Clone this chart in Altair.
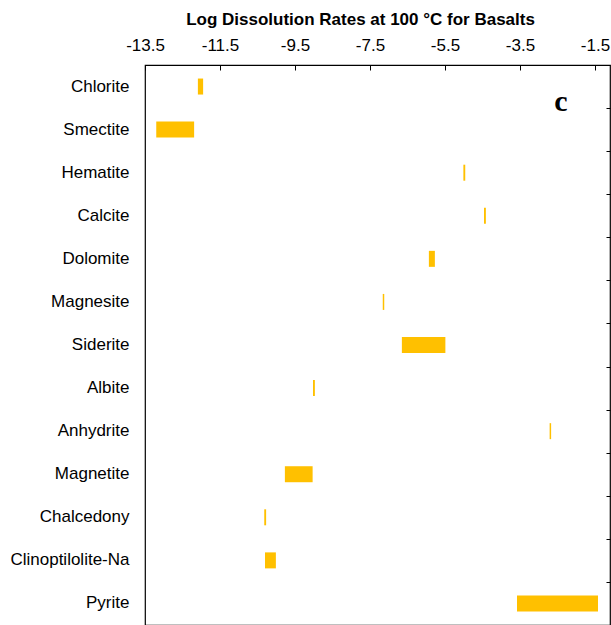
import altair as alt
import pandas as pd

# Minerals listed top to bottom
minerals = [
    "Chlorite", "Smectite", "Hematite", "Calcite", "Dolomite", "Magnesite",
    "Siderite", "Albite", "Anhydrite", "Magnetite", "Chalcedony",
    "Clinoptilolite-Na", "Pyrite",
]
# Range of log dissolution rates (low / high end) for each mineral
rate_low = [-12.09, -13.20, -5.01, -4.46, -5.93, -7.16, -6.65, -9.02, -2.71,
            -9.77, -10.32, -10.30, -3.58]
rate_high = [-11.95, -12.19, -4.96, -4.41, -5.77, -7.12, -5.49, -8.97, -2.67,
             -9.03, -10.27, -10.01, -1.42]
tick_values = [-13.5, -11.5, -9.5, -7.5, -5.5, -3.5, -1.5]

df = pd.DataFrame({"mineral": minerals, "low": rate_low, "high": rate_high})

FONT = "Liberation Sans"

x_scale = alt.Scale(domain=[-13.5, -1.1], nice=False, zero=False)
y_scale = alt.Scale(domain=minerals, paddingInner=0, paddingOuter=0)

bars = alt.Chart(df).mark_bar(color="#FFC000", size=16).encode(
    x=alt.X(
        "low:Q",
        scale=x_scale,
        axis=alt.Axis(
            orient="top", values=tick_values, format=".1f", grid=False,
            labelExpr="replace(datum.label, '\u2212', '-')",
            domain=False, tickSize=5, offset=-5, tickColor="black",
            labelFont=FONT, labelFontSize=17, labelColor="black",
            labelPadding=11, labelFlush=False,
            title="Log Dissolution Rates at 100 °C for Basalts",
            titleFont=FONT, titleFontSize=17, titleFontWeight="bold",
            titleColor="black", titlePadding=8, titleX=215,
        ),
    ),
    x2="high:Q",
    y=alt.Y(
        "mineral:N", scale=y_scale, sort=minerals,
        axis=alt.Axis(
            orient="left", title=None, ticks=False, domain=False, grid=False,
            labelFont=FONT, labelFontSize=17, labelColor="black",
            labelPadding=16,
        ),
    ),
)

# Short band-boundary ticks along the right edge
right_ticks = alt.Chart(df).mark_bar(opacity=0).encode(
    x=alt.X("low:Q", scale=x_scale, axis=None),
    x2="high:Q",
    y=alt.Y(
        "mineral:N", scale=y_scale, sort=minerals,
        axis=alt.Axis(
            orient="right", title=None, labels=False, domain=False,
            grid=False, tickBand="extent", tickSize=4, offset=-4,
            tickColor="black",
        ),
    ),
)

panel_label = alt.Chart(pd.DataFrame({"t": ["c"]})).mark_text(
    font="Liberation Serif", fontSize=30, fontWeight="bold", color="black",
).encode(x=alt.value(416), y=alt.value(37), text="t:N")

chart = (
    alt.layer(bars, right_ticks, panel_label)
    .resolve_axis(x="independent", y="independent")
    .properties(
        width=465, height=560,
        padding={"left": 9, "top": 10, "right": 0, "bottom": 0},
        background="white",
    )
    .configure_view(stroke="black", strokeWidth=1.2)
)

chart.save("out.html", embed_options={"renderer": "svg", "actions": False})
